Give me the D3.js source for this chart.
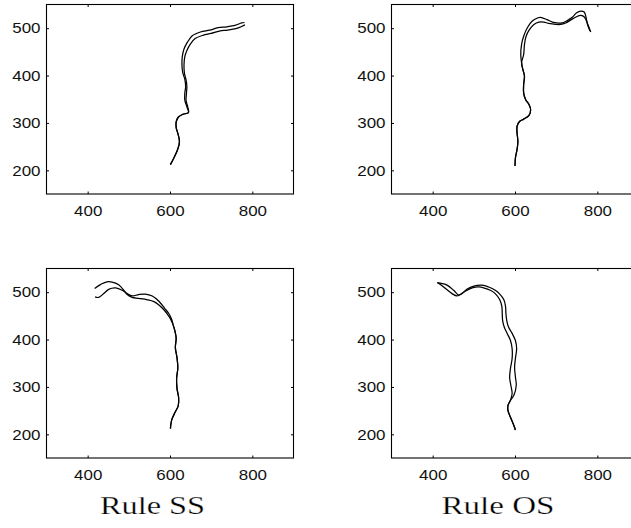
<!DOCTYPE html>
<html><head><meta charset="utf-8">
<script src="https://cdn.jsdelivr.net/npm/d3@7"></script>
<style>html,body{margin:0;padding:0;background:#fff;} svg{display:block}</style>
</head><body>
<svg id="chart" width="631" height="528"></svg>
<script>
// ---------- data ----------
const xTickValues = [400, 600, 800];
const yTickValues = [200, 300, 400, 500];
const xExtent = [300, 900];
const yExtent = [150, 550];
const columnLabels = ["Rule SS", "Rule OS"];

// top-left panel
const topLeftShared = [[601,212],[610,227],[619,245],[623,260],[620,275],[615,290],[615,302],[620,312],[631,318],[645,322]];
const topLeftLineA = [[641,334],[636,348],[636,363],[638,377],[636,392],[631,406],[629,423],[630,441],[634,456],[642,470],[654,484],[674,492],[696,496],[717,501],[738,503],[758,506],[774,511],[781,512]];
const topLeftLineB = [[643,334],[639,348],[640,363],[641,377],[639,391],[635,405],[634,423],[636,440],[641,453],[649,466],[661,478],[680,485],[700,489],[720,494],[740,496],[760,499],[775,504],[782,507]];

// top-right panel
const topRightShared = [[600,209],[601,226],[605,244],[607,261],[605,279],[605,293],[611,303],[621,308],[634,316],[638,328],[634,339],[626,349],[621,363],[621,381],[623,399],[619,413],[616,427]];
const topRightLineA = [[614,444],[616,466],[621,483],[630,501],[642,515],[656,522],[662,523],[678,518],[691,513],[703,511],[715,511],[727,516],[739,523],[749,532],[760,536],[768,534],[772,525],[776,508],[782,494]];
const topRightLineB = [[621,444],[623,466],[627,483],[635,497],[646,508],[658,513],[670,513],[682,510],[699,508],[711,508],[723,511],[735,517],[747,523],[760,527],[769,523],[777,508],[784,492]];

// bottom-left panel (Rule SS)
const bottomLeftShared = [[601,212],[604,230],[612,246],[620,260],[621,277],[617,297],[616,318],[619,340],[617,362],[613,383],[615,403],[612,418],[608,430]];
const bottomLeftLineA = [[602,442],[594,453],[584,464],[573,473],[561,480],[545,484],[524,487],[508,489],[496,495],[488,504],[476,515],[464,520],[447,522],[431,516],[417,508]];
const bottomLeftLineB = [[604,443],[597,455],[587,466],[573,481],[557,492],[540,496],[524,495],[508,492],[496,497],[484,504],[468,509],[451,506],[439,497],[427,489],[418,490]];

// bottom-right panel (Rule OS)
const bottomRightShared = [[601,209],[597,219],[589,236],[583,250],[583,261],[589,272]];
const bottomRightLineA = [[593,286],[590,303],[587,320],[589,339],[593,360],[593,381],[589,398],[581,413],[574,426],[570,440],[569,455],[568,470],[563,484],[552,497],[540,504],[528,508],[512,511],[496,509],[479,502],[467,495],[459,492],[447,497],[435,505],[422,514],[412,520]];
const bottomRightLineB = [[597,282],[603,303],[601,321],[599,342],[601,360],[604,381],[601,398],[593,413],[584,427],[580,440],[578,455],[577,470],[573,484],[563,496],[552,504],[536,511],[520,515],[500,513],[483,506],[471,497],[463,494],[451,504],[435,515],[418,519],[411,520]];

const panels = [
  {col:0, row:0, shared: topLeftShared, lines:[topLeftLineA, topLeftLineB]},
  {col:1, row:0, shared: topRightShared, lines:[topRightLineA, topRightLineB]},
  {col:0, row:1, shared: bottomLeftShared, lines:[bottomLeftLineA, bottomLeftLineB]},
  {col:1, row:1, shared: bottomRightShared, lines:[bottomRightLineA, bottomRightLineB]}
];

// ---------- layout ----------
const colLeft = [46.5, 391.5];
const rowTop = [4.5, 268.5];
const W = 247, H = 189.5;
const tickLen = 2.5;
const fontScaleX = 1.13;

const svg = d3.select("#chart");

panels.forEach(p => {
  const g = svg.append("g").attr("transform", `translate(${colLeft[p.col]},${rowTop[p.row]})`);
  const x = d3.scaleLinear().domain(xExtent).range([0, W]);
  const y = d3.scaleLinear().domain(yExtent).range([H, 0]);

  const clipId = `clip${p.col}${p.row}`;
  g.append("clipPath").attr("id", clipId).append("rect").attr("width", W).attr("height", H);

  const bottom = g.append("g").attr("transform", `translate(0,${H})`)
    .call(d3.axisBottom(x).tickValues(xTickValues).tickSizeInner(-tickLen).tickSizeOuter(0).tickPadding(11).tickFormat(d3.format("d")));
  const top = g.append("g")
    .call(d3.axisTop(x).tickValues(xTickValues).tickSizeInner(-tickLen).tickSizeOuter(0).tickFormat(""));
  const left = g.append("g")
    .call(d3.axisLeft(y).tickValues(yTickValues).tickSizeInner(-tickLen).tickSizeOuter(0).tickPadding(6).tickFormat(d3.format("d")));
  const right = g.append("g").attr("transform", `translate(${W},0)`)
    .call(d3.axisRight(y).tickValues(yTickValues).tickSizeInner(-tickLen).tickSizeOuter(0).tickFormat(""));

  [bottom, top, left, right].forEach(a => {
    a.select(".domain").remove();
    a.selectAll("line").attr("stroke", "#000").attr("stroke-width", 1);
    a.selectAll("text").attr("fill", "#111")
      .style("font-family", "'Liberation Sans', Arial, Helvetica, sans-serif")
      .style("font-size", "15px");
  });
  left.selectAll("text").attr("x", -6 / fontScaleX).attr("transform", `scale(${fontScaleX},1)`);
  bottom.selectAll("text").attr("transform", `scale(${fontScaleX},1)`);

  g.append("rect").attr("width", W).attr("height", H)
    .attr("fill", "none").attr("stroke", "#000").attr("stroke-width", 1.1);

  const line = d3.line().x(d => x(d[0])).y(d => y(d[1])).curve(d3.curveCatmullRom.alpha(0.5));
  const lg = g.append("g").attr("clip-path", `url(#${clipId})`);
  p.lines.forEach(l => {
    lg.append("path").datum(p.shared.concat(l)).attr("d", line)
      .attr("fill", "none").attr("stroke", "#000").attr("stroke-width", 1.25)
      .attr("stroke-linejoin", "round");
  });
});

// column labels
const labelX = [100, 441.5];
const labelW = [105, 113];
columnLabels.forEach((t, i) => {
  svg.append("text").attr("x", labelX[i]).attr("y", 513.5)
    .attr("textLength", labelW[i]).attr("lengthAdjust", "spacingAndGlyphs")
    .style("font-family", "'Liberation Serif', 'Times New Roman', serif")
    .style("font-size", "25px").attr("fill", "#000")
    .attr("stroke", "#fff").attr("stroke-width", 0.25)
    .text(t);
});
</script>
</body></html>
